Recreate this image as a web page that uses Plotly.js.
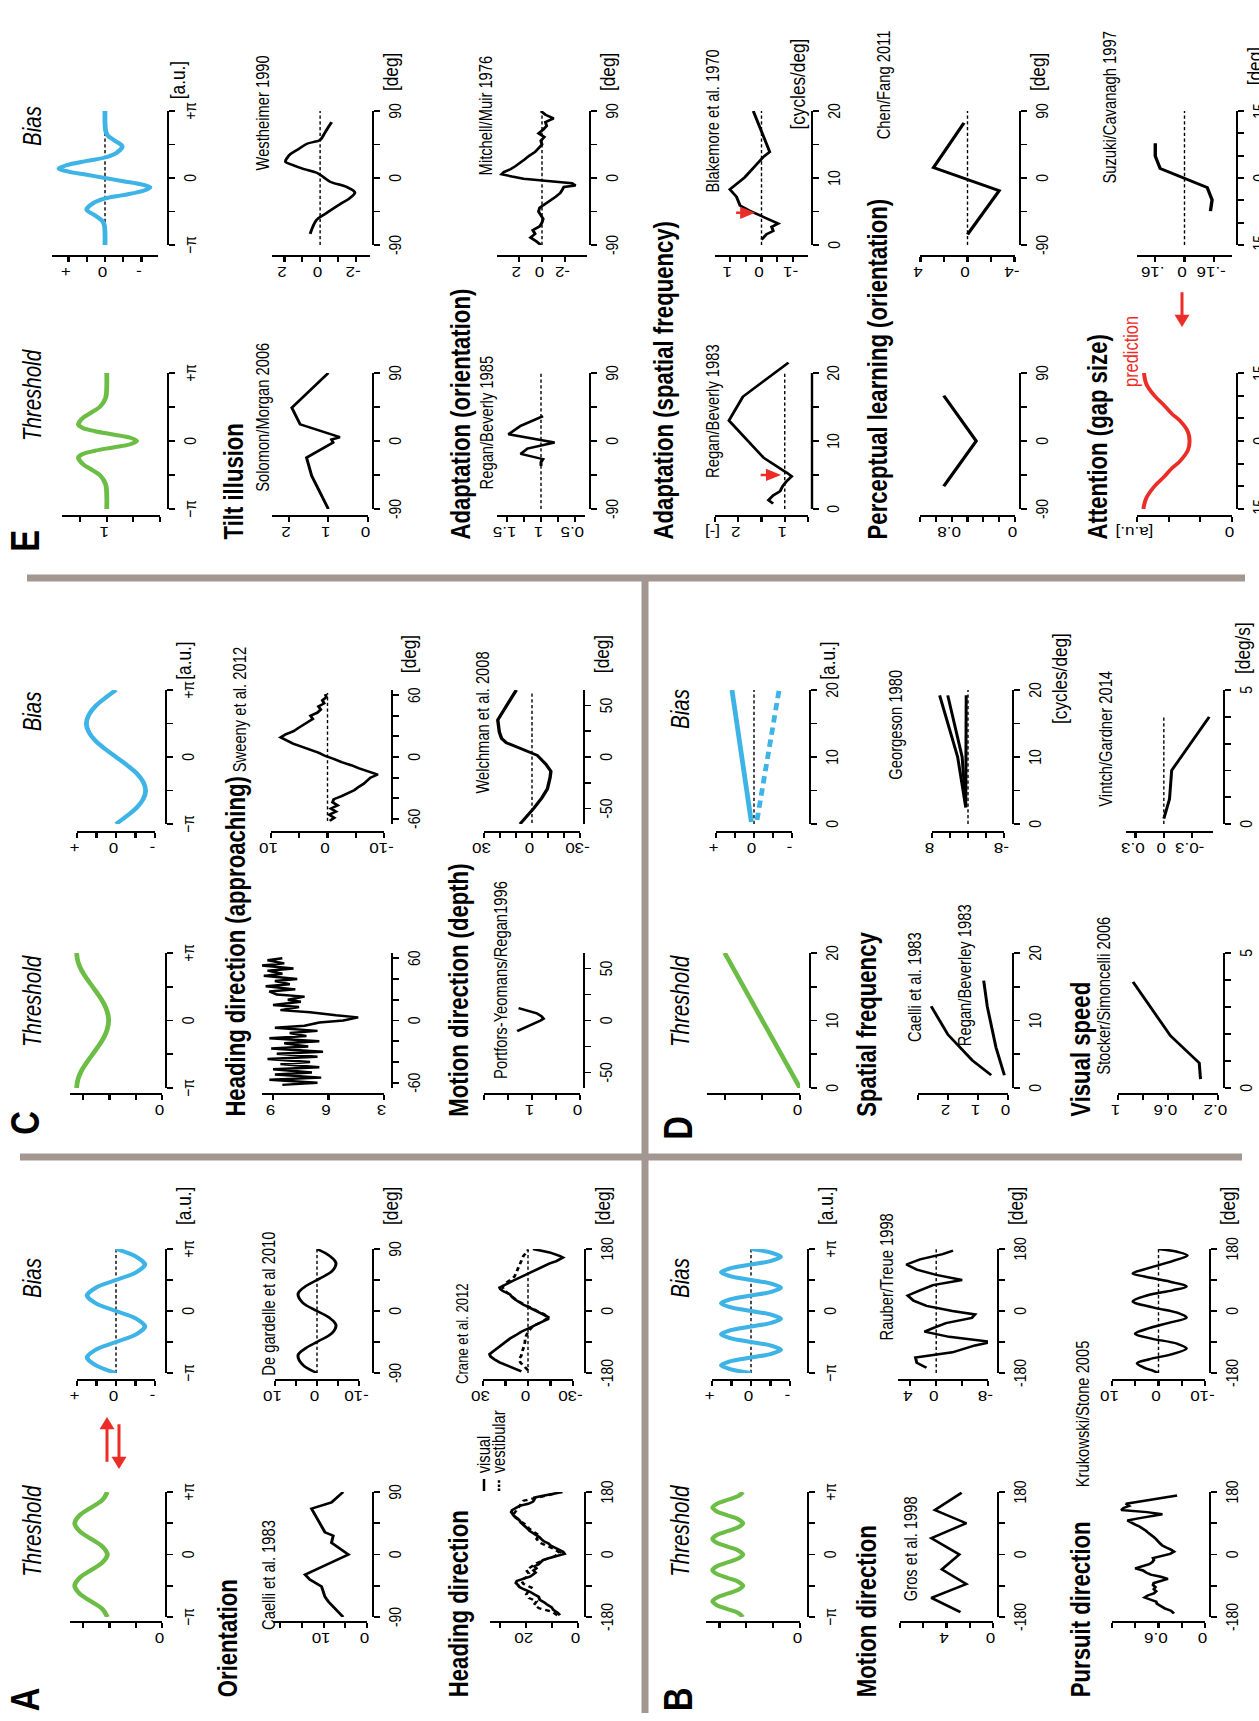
<!DOCTYPE html>
<html><head><meta charset="utf-8">
<script src="https://cdn.plot.ly/plotly-3.0.1.min.js"></script>
<style>
html,body{margin:0;padding:0;background:#fff;overflow:hidden;width:1259px;height:1721px;}
#wrap{position:absolute;left:0;top:0;transform-origin:0 0;}
</style></head>
<body><div id="wrap"><div id="chart"></div></div>
<script>
// ================= DATA =================
const xPi8 = [-3.1416,-2.7489,-2.3562,-1.9635,-1.5708,-1.1781,-0.7854,-0.3927,0,0.3927,0.7854,1.1781,1.5708,1.9635,2.3562,2.7489,3.1416];
const xPi16 = [-3.1416,-2.9452,-2.7489,-2.5525,-2.3562,-2.1598,-1.9635,-1.7671,-1.5708,-1.3744,-1.1781,-0.9817,-0.7854,-0.5890,-0.3927,-0.1963,0,0.1963,0.3927,0.5890,0.7854,0.9817,1.1781,1.3744,1.5708,1.7671,1.9635,2.1598,2.3562,2.5525,2.7489,2.9452,3.1416];
const aThreshold = [2.08,2.26,2.70,3.14,3.32,3.14,2.70,2.26,2.08,2.26,2.70,3.14,3.32,3.14,2.70,2.26,2.08];
const aBias = [0,0.52,0.74,0.52,0,-0.52,-0.74,-0.52,0,0.52,0.74,0.52,0,-0.52,-0.74,-0.52,0];
const bThreshold = [2.13,2.29,2.69,3.09,3.25,3.09,2.69,2.29,2.13,2.29,2.69,3.09,3.25,3.09,2.69,2.29,2.13,2.29,2.69,3.09,3.25,3.09,2.69,2.29,2.13,2.29,2.69,3.09,3.25,3.09,2.69,2.29,2.13];
const bBias = [0,0.54,0.76,0.54,0,-0.54,-0.76,-0.54,0,0.54,0.76,0.54,0,-0.54,-0.76,-0.54,0,0.54,0.76,0.54,0,-0.54,-0.76,-0.54,0,0.54,0.76,0.54,0,-0.54,-0.76,-0.54,0];
const cThreshold = [3.25,3.20,3.07,2.87,2.64,2.41,2.21,2.08,2.03,2.08,2.21,2.41,2.64,2.87,3.07,3.20,3.25];
const cBias = [0,-0.29,-0.54,-0.70,-0.76,-0.70,-0.54,-0.29,0,0.29,0.54,0.70,0.76,0.70,0.54,0.29,0];
const dThrX = [0,20], dThrY = [0,2];
const dBiasX1 = [0.3,20], dBiasY1 = [0.07,0.58];
const dBiasX2 = [0.6,20], dBiasY2 = [-0.08,-0.66];
const eThrX = [-3.14,-2.5,-2.0,-1.6,-1.3,-1.1,-0.9,-0.75,-0.6,-0.45,-0.3,-0.15,0,0.15,0.3,0.45,0.6,0.75,0.9,1.1,1.3,1.6,2.0,2.5,3.14];
const eThrY = [1.0,1.0,1.02,1.12,1.3,1.43,1.51,1.53,1.45,1.22,0.88,0.56,0.44,0.56,0.88,1.22,1.45,1.53,1.51,1.43,1.3,1.12,1.02,1.0,1.0];
const eBiasX = [-3.14,-2.6,-2.2,-2.0,-1.75,-1.48,-1.2,-0.96,-0.8,-0.6,-0.44,-0.3,-0.15,0,0.15,0.3,0.44,0.6,0.8,0.96,1.2,1.48,1.75,2.0,2.2,2.6,3.14];
const eBiasY = [0,0,0.02,0.08,0.28,0.5,0.34,0,-0.5,-1.05,-1.23,-1.0,-0.5,0,0.5,1.0,1.26,1.05,0.5,0,-0.33,-0.47,-0.27,-0.07,-0.02,0,0];
const predX = [-15,-12.5,-10,-8,-6,-4.5,-2,0,2,4.5,6,8,10,12.5,15];
const predY = [2.8,2.7,2.45,2.16,1.9,1.65,1.39,1.34,1.39,1.65,1.9,2.16,2.45,2.7,2.78];

const caelliOriX = [-90,-68,-61,-46,-36,-29,0,17,27,32,66,75,90];
const caelliOriY = [5.5,8.9,9.7,10.5,13.2,14.3,4.3,8.2,7.8,9.7,12.8,8.2,5.5];
const degardX = [-90,-78,-64,-54,-44,-32,-20,-10,0,12,25,36,47,58,70,80,90];
const degardY = [0,3.4,4.5,2.7,-0.3,-3.6,-4.5,-3.0,0,3.4,4.5,2.7,-0.6,-3.6,-4.5,-3.0,0];
const craneThrX = [-175,-168,-160,-152,-145,-138,-130,-122,-115,-108,-100,-94,-88,-82,-76,-70,-64,-58,-52,-46,-40,-34,-28,-22,-16,-10,-4,2,8,14,20,26,32,38,44,50,56,62,68,74,80,86,92,98,104,110,116,122,128,134,140,146,152,158,164,170,176,180];
const craneThrVis = [7,7.8,9.5,10.2,11.8,13,14.8,15.2,16.8,18.4,21,22.6,23.2,24,23.6,21.3,18.6,17.4,16.4,17.2,16.1,16.8,15.2,14.4,13.5,11,8.4,5.2,5.8,7.4,9,10.6,11.4,13.2,14.1,14.9,16.2,17.4,18.7,19.4,20.3,21.2,22.1,22.6,23.4,24.6,25.2,25.8,25.4,24.1,22.6,19.2,17.4,16.9,16.8,13,8,6];
const craneThrVesX = [-175,-165,-155,-145,-135,-125,-115,-105,-95,-85,-75,-65,-55,-45,-35,-25,-15,-5,5,15,25,35,45,55,65,75,85,95,105,115,125,135,145,155,165,175];
const craneThrVes = [8,10,15,17,16,19,20,19,18,21,22,20,19,20,18,16,13,9,7,9,12,15,16,15,17,19,20,22,24,25,24,23,22,21,15,9];
const craneBiasX = [-175,-165,-155,-149,-140,-132,-125,-118,-110,-100,-90,-80,-70,-60,-50,-42,-34,-28,-24,-18,-12,-6,0,5,12,19,26,33,40,49,58,64,68,74,80,88,97,105,112,120,126,132,138,145,150,155,160,165,170,175,180];
const craneBiasVis = [4.4,10,16,19,22.5,25,25.6,23.5,21,18,15.5,12,8,4.5,-0.5,-4,-8,-11,-13.3,-13.5,-11,-8,-5,-3.3,0,3.3,6,8.5,10.5,12.2,16.7,18.5,18.9,16.5,13.5,10,5.6,2,-1.5,-5,-7.8,-11,-14.5,-18.9,-21.5,-23.3,-21,-17.5,-14.4,-9,-3.3];
const craneBiasVesX = [-172,-160,-150,-140,-130,-120,-110,-100,-90,-80,-70,-60,-50,-40,-30,-20,-10,0,10,20,30,40,50,60,70,80,90,100,110,120,130,140,150,160,170,178];
const craneBiasVes = [0,3,5,6,4.5,4,3,2.5,2,2,1,0,-2,-5,-10,-13,-11,-6,-2,3,7,10,13,16,17,15,12,9,8,7,6,5,4,3,1,0];
const grosX = [-166,-125,-85,-43,0,47,90,128,178];
const grosY = [2.8,5.3,2.3,4.4,2.9,5.3,2.3,5.0,2.7];
const rauberX = [-165,-150,-135,-120,-100,-90,-75,-60,-50,-35,-20,-10,0,15,30,45,60,75,90,105,120,135,150,165,175];
const rauberY = [1.5,3.0,3.2,-2.5,-6,-8.5,-2,1.8,0.5,-1.5,-5.5,-6,-2.5,1.5,3.5,4.4,2.5,0.5,-4,0,3,4.6,2.5,-1,-2.6];
const krukThrX = [-170,-162,-155,-148,-142,-136,-130,-124,-118,-112,-106,-100,-94,-88,-82,-76,-70,-64,-58,-52,-46,-40,-34,-28,-22,-16,-10,-4,2,8,14,20,26,32,38,44,50,56,62,68,74,80,86,92,98,104,110,116,122,128,134,140,146,152,158,164,170];
const krukThrY = [0.40,0.44,0.52,0.58,0.62,0.63,0.70,0.78,0.74,0.66,0.63,0.66,0.64,0.67,0.66,0.56,0.48,0.57,0.70,0.76,0.80,0.90,0.82,0.72,0.68,0.66,0.67,0.55,0.45,0.40,0.44,0.50,0.55,0.58,0.60,0.63,0.66,0.70,0.73,0.76,0.80,0.84,0.90,0.95,1.00,0.86,0.68,0.55,0.75,1.08,1.05,0.98,1.02,0.85,0.70,0.50,0.36];
const krukBiasX = [-180,-172,-165,-152,-140,-125,-109,-95,-80,-66,-50,-35,-19,-5,10,28,45,60,71,85,100,109,125,145,161,172,180];
const krukBiasY = [0,1.5,3,4.6,2,-3,-6,-4,1.5,5,2,-2,-6,-4,1,5.5,2.5,-3,-6,-2.5,3,5.5,2,-3,-6.2,-4,0];
const sweenyThrX = [-62,-60,-57,-55,-52,-50,-47,-45,-42,-40,-37,-35,-32,-30,-27,-25,-22,-20,-17,-15,-12,-10,-7,-5,-2,0,3,5,8,10,13,15,18,20,23,25,28,30,33,35,38,40,43,45,48,50,53,55,58,60];
const sweenyThrY = [8.5,6.6,9.2,6.4,8.9,6.9,9.0,6.5,8.6,7.0,9.3,6.6,8.8,6.3,9.1,7.1,8.4,6.5,9.2,7.2,8.1,6.6,8.9,7.3,6.5,5.2,4.4,5.6,7.0,8.6,7.6,9.0,7.5,8.2,7.3,8.8,9.2,7.8,9.4,8.1,8.9,7.7,9.5,8.5,9.3,7.9,9.6,8.4,9.3,8.5];
const sweenyBiasX = [-62,-59,-56,-53,-50,-47,-44,-41,-38,-35,-32,-29,-26,-23,-20,-17,-14,-11,-8,-5,-2,1,4,7,10,13,16,19,22,25,28,31,34,37,40,43,46,49,52,55,58,61];
const sweenyBiasY = [-0.4,-1.2,-0.3,-1.5,-0.6,-1.8,-0.9,-1.1,-2.5,-3.6,-4.8,-5.5,-6.4,-7.0,-7.6,-8.9,-7.2,-5.6,-4.2,-2.5,-1.2,0.4,1.5,3.2,4.6,6.1,7.2,8.3,7.4,6.0,5.2,4.3,3.6,2.6,3.0,1.8,1.2,1.6,0.6,0.9,0.2,0.4];
const portforsX = [-10.3,-5,0,1.7,4,7,9,12];
const portforsY = [1.31,1.05,0.82,0.76,0.8,0.9,1.05,1.28];
const welchmanX = [-65,-50,-40,-31,-20,-13.8,-6.9,1.7,8.6,13.8,18,24,36,65];
const welchmanY = [7.5,-1,-6,-9.6,-11.3,-11.8,-8.6,-3.2,7.5,16,19,20.4,21.4,9.8];
const caelliSfX = [1.9,4.1,7.9,12.1], caelliSfY = [0.56,1.19,2.0,2.56];
const reganSfX = [1.9,6,12.05,15.9], reganSfY = [0.12,0.4,0.69,0.81];
const georgesonX = [2.5,10,19.2];
const georgesonY1 = [0.5,2.3,6.3], georgesonY2 = [0.5,1.3,4.5], georgesonY3 = [0.5,0.5,0.4];
const stockerX = [0.33,0.93,1.93,3.93], stockerY = [0.34,0.35,0.58,0.88];
const vintchX = [0.2,0.93,2.0,4.0], vintchY = [0,-0.06,-0.083,-0.48];
const solomonX = [-90,-46,-22,-2,2,5,22,44,90], solomonY = [1.0,1.42,1.55,0.88,0.92,0.71,1.71,1.92,1.0];
const westX = [-75,-65,-56,-48,-41,-34,-27,-19.5,-12,-5,1,7,12,17,22,27,32,39,46,51,58,66,75];
const westY = [0.56,0.4,0.19,-0.3,-0.74,-1.2,-1.67,-1.95,-1.49,-0.56,-0.2,0.19,0.9,1.49,1.95,1.85,1.67,1.2,0.74,0,-0.2,-0.4,-0.65];
const regan85X = [-33,-28,-24,-17,-10,-2,9,20,33], regan85Y = [1.0,1.0,0.97,1.3,1.2,0.8,1.48,1.3,0.97];
const mitchX = [-90,-85,-80,-75,-70,-65,-60,-55,-50,-45,-40,-35,-30,-25,-20,-15,-12,-10,-7,-4,-1,2,5,8,12,16,20,25,30,35,40,45,50,55,60,65,70,75,80,85,90];
const mitchY = [0.1,0.5,1.0,0.6,0.8,0.2,0,-0.1,0.1,0.3,0.2,-0.3,-0.8,-1.2,-1.6,-1.8,-1.9,-2.9,-2.6,-0.5,1.6,2.6,3.5,3.3,2.7,2.3,1.9,1.5,1.1,0.6,0.3,0,0.1,-0.2,0.3,-0.1,-0.4,-0.3,-1.0,-0.3,0.1];
const regan83X = [0.8,1.3,2.0,2.6,3.3,4.0,4.8,5.3,7.5,10,13,16.5,21.5];
const regan83Y = [1.25,1.35,1.25,1.1,1.05,0.97,0.85,0.95,1.45,1.8,2.2,1.9,0.92];
const blakeX = [0.8,1.6,2.1,2.7,3.2,4.0,5.1,5.9,7.2,8.3,10.1,11.5,13.1,13.9,20];
const blakeY = [0,-0.16,-0.37,-0.32,-0.53,-0.16,0.37,0.68,0.79,1.0,0.53,0.26,-0.05,-0.26,0.26];
const chenThrX = [-60,0,60], chenThrY = [0.9,0.49,0.9];
const chenBiasX = [-76,-17,14,74], chenBiasY = [0,-2.7,2.9,0.3];
const suzukiX = [-7.4,-4.9,-2.1,2.1,4.9,7.8], suzukiY = [-0.142,-0.151,-0.124,0.133,0.16,0.16];

const piT = [-3.1416,-1.5708,0,1.5708,3.1416], piL = ['\u2212\u03c0','','0','','+\u03c0'];
const pmT = [-1,-0.5,0,0.5,1], pmL = ['-','','0','','+'];
const d90T = [-90,-45,0,45,90], d90L = ['-90','','0','','90'];
const d180T = [-180,-90,0,90,180], d180L = ['-180','','0','','180'];
const sf20T = [0,5,10,15,20], sf20L = ['0','','10','','20'];
const d15T = [-15,-10,-5,0,5,10,15], d15L = ['-15','','','0','','','15'];
const d60T = [-60,-40,-20,0,20,40,60], d60L = ['-60','','','0','','','60'];
const d50T = [-50,-25,0,25,50], d50L = ['-50','','0','','50'];

// ================= LAYOUT HELPERS =================
const W = 1721, H = 1259, S = 0.82;
const PW = Math.round(W / S);
const FONT = "'Liberation Sans', Arial, Helvetica, sans-serif";
const green = '#6cbd45', blue = '#3db3e6', red = '#ec2d27', grey = '#a29891';
const TICK = 17, BIG = 40, SEC = 27, ITA = 25, CIT = 18, UNIT = 21;
const X = lx => lx / W, Y = ly => 1 - ly / H;
const data = [];
const layout = {width: PW, height: H, margin:{l:0,r:0,t:0,b:0}, showlegend:false,
  paper_bgcolor:'#fff', plot_bgcolor:'rgba(0,0,0,0)', font:{family:FONT, color:'#000', size:15},
  annotations:[], shapes:[]};
let n = 0;
function sub(g) {
  n++; const k = n === 1 ? '' : String(n);
  const c = {showline:true, linecolor:'#000', linewidth:2.4, ticks:'outside', ticklen:6, tickwidth:2.2,
    tickcolor:'#000', showgrid:false, zeroline:false, fixedrange:true, tickmode:'array',
    tickfont:{size:TICK, family:FONT, color:'#000'}, automargin:false};
  layout['xaxis'+k] = Object.assign({}, c, {domain:[X(g.xd[0]), X(g.xd[1])], anchor:'free',
    position:Y(g.xa), range:g.xr, tickvals:g.xt, ticktext:g.xtt, showline:g.xline !== false});
  layout['yaxis'+k] = Object.assign({}, c, {domain:[Y(g.yd[1]), Y(g.yd[0])], anchor:'free',
    position:X(g.ya), range:g.yr, tickvals:g.yt, ticktext:g.ytt, tickangle:-90});
  return {x:'x'+k, y:'y'+k, xa:g.xa};
}
function line(sp, xs, ys, o) {
  o = o || {};
  data.push({type:'scatter', mode:'lines', x:xs, y:ys, xaxis:sp.x, yaxis:sp.y, hoverinfo:'skip',
    line:{color:o.color || '#000', width:o.width || 3, shape:o.shape || 'linear', dash:o.dash || 'solid'}});
}
function zero(sp, a, b, v) { line(sp, [a, b], [v || 0, v || 0], {width:1.4, dash:'4px,3px'}); }
function txt(t, lx, ly, o) {
  o = o || {};
  layout.annotations.push({text:t, x:X(lx), y:Y(ly), xref:'paper', yref:'paper', showarrow:false,
    xanchor:o.xa || 'center', yanchor:'middle', font:{size:o.size || 15, family:FONT, color:o.color || '#000'}});
}
function arrowP(x0, y0, x1, y1) {
  layout.annotations.push({text:'', x:X(x1), y:Y(y1), ax:X(x0), ay:Y(y0), xref:'paper', yref:'paper',
    axref:'paper', ayref:'paper', showarrow:true, arrowhead:2, arrowsize:1, arrowwidth:3, arrowcolor:red});
}
function arrowD(sp, x0, y0, x1, y1) {
  layout.annotations.push({text:'', x:x1, y:y1, ax:x0, ay:y0, xref:sp.x, yref:sp.y,
    axref:sp.x, ayref:sp.y, showarrow:true, arrowhead:2, arrowsize:1, arrowwidth:3, arrowcolor:red});
}
function bar(x0, y0, x1, y1, w) {
  layout.shapes.push({type:'line', xref:'paper', yref:'paper', x0:X(x0), y0:Y(y0), x1:X(x1), y1:Y(y1),
    line:{color:grey, width:w}});
}
function seg(x0, y0, x1, y1, dash) {
  layout.shapes.push({type:'line', xref:'paper', yref:'paper', x0:X(x0), y0:Y(y0), x1:X(x1), y1:Y(y1),
    line:{color:'#000', width:2.5, dash:dash || 'solid'}});
}
// x-axis line drawn only between two data values (axis extends beyond the ticks)
function axisLine(sp, a, b) {
  layout.shapes.push({type:'line', xref:sp.x, yref:'paper', x0:a, x1:b, y0:Y(sp.xa), y1:Y(sp.xa),
    line:{color:'#000', width:2.4}});
}

const C1A = [104,229], C2A = [348,472], YA1 = 99, YA2 = 341;
const C1C = [633,768], C2C = [897,1031], YC1 = 627, YC2 = 889;
const C1E = [1212,1348], C2E = [1476,1610], YE1 = 1205, YE2 = 1465;
const PI = 3.1416;
const TW = 4.8;

// ---------- Panel A ----------
let sp;
sp = sub({xd:C1A, yd:[70,162], xa:166, ya:YA1, xr:[-PI,PI], xt:piT, xtt:piL, yr:[0,3.5], yt:[0,1,2,3], ytt:['0','','','']});
line(sp, xPi8, aThreshold, {color:green, width:TW, shape:'spline'});
sp = sub({xd:C2A, yd:[77,155], xa:166, ya:YA2, xr:[-PI,PI], xt:piT, xtt:piL, yr:[-1,1], yt:pmT, ytt:pmL});
zero(sp, -PI, PI); line(sp, xPi8, aBias, {color:blue, width:TW, shape:'spline'});
sp = sub({xd:C1A, yd:[273,367], xa:373, ya:YA1, xr:[-90,90], xt:d90T, xtt:d90L, yr:[0,21.7], yt:[0,5,10,15,20], ytt:['0','','10','','']});
line(sp, caelliOriX, caelliOriY);
sp = sub({xd:C2A, yd:[275,359], xa:373, ya:YA2, xr:[-90,90], xt:d90T, xtt:d90L, yr:[-10,10], yt:[-10,-5,0,5,10], ytt:['-10','','0','','10']});
zero(sp, -90, 90); line(sp, degardX, degardY, {shape:'spline'});
sp = sub({xd:C1A, yd:[490,578], xa:585, ya:YA1, xr:[-180,180], xt:d180T, xtt:d180L, yr:[0,34], yt:[0,10,20,30], ytt:['0','','20','']});
line(sp, craneThrVesX, craneThrVes, {dash:'5px,4px', width:2.8}); line(sp, craneThrX, craneThrVis);
sp = sub({xd:C2A, yd:[483,573], xa:585, ya:YA2, xr:[-180,180], xt:d180T, xtt:d180L, yr:[-30,30], yt:[-30,-15,0,15,30], ytt:['-30','','0','','30']});
zero(sp, -180, 180); line(sp, craneBiasVesX, craneBiasVes, {dash:'5px,4px', width:2.8}); line(sp, craneBiasX, craneBiasVis);

// ---------- Panel B ----------
sp = sub({xd:C1A, yd:[706,800], xa:808, ya:YA1, xr:[-PI,PI], xt:piT, xtt:piL, yr:[0,3.5], yt:[0,1,2,3], ytt:['0','','','']});
line(sp, xPi16, bThreshold, {color:green, width:TW, shape:'spline'});
sp = sub({xd:C2A, yd:[712,790], xa:808, ya:YA2, xr:[-PI,PI], xt:piT, xtt:piL, yr:[-1,1], yt:pmT, ytt:pmL});
zero(sp, -PI, PI); line(sp, xPi16, bBias, {color:blue, width:TW, shape:'spline'});
sp = sub({xd:C1A, yd:[900,993], xa:998, ya:YA1, xr:[-180,180], xt:d180T, xtt:d180L, yr:[0,8], yt:[0,2,4,6,8], ytt:['0','','4','','']});
line(sp, grosX, grosY);
sp = sub({xd:C2A, yd:[898,988], xa:998, ya:YA2, xr:[-180,180], xt:d180T, xtt:d180L, yr:[-8,5.9], yt:[-8,-4,0,4], ytt:['-8','','0','4']});
zero(sp, -180, 180); line(sp, rauberX, rauberY);
sp = sub({xd:C1A, yd:[1112,1205], xa:1210, ya:YA1, xr:[-180,180], xt:d180T, xtt:d180L, yr:[0,1.2], yt:[0,0.3,0.6,0.9,1.2], ytt:['0','','0.6','','']});
line(sp, krukThrX, krukThrY);
sp = sub({xd:C2A, yd:[1112,1205], xa:1210, ya:YA2, xr:[-180,180], xt:d180T, xtt:d180L, yr:[-10,10], yt:[-10,-5,0,5,10], ytt:['-10','','0','','10']});
zero(sp, -180, 180); line(sp, krukBiasX, krukBiasY, {shape:'spline'});

// ---------- Panel C ----------
sp = sub({xd:C1C, yd:[70,162], xa:166, ya:YC1, xr:[-PI,PI], xt:piT, xtt:piL, yr:[0,3.5], yt:[0,1,2,3], ytt:['0','','','']});
line(sp, xPi8, cThreshold, {color:green, width:TW, shape:'spline'});
sp = sub({xd:C2C, yd:[77,155], xa:166, ya:YC2, xr:[-PI,PI], xt:piT, xtt:piL, yr:[-1,1], yt:pmT, ytt:pmL});
line(sp, xPi8, cBias, {color:blue, width:TW, shape:'spline'});
sp = sub({xd:C1C, yd:[262,384], xa:392, ya:YC1, xr:[-65,65], xt:d60T, xtt:d60L, yr:[3,9.6], yt:[3,6,9], ytt:['3','6','9']});
line(sp, sweenyThrX, sweenyThrY);
sp = sub({xd:C2C, yd:[271,384], xa:392, ya:YC2, xr:[-65,65], xt:d60T, xtt:d60L, yr:[-10,10], yt:[-10,-5,0,5,10], ytt:['-10','','0','','10']});
zero(sp, -62, 62); line(sp, sweenyBiasX, sweenyBiasY);
sp = sub({xd:C1C, yd:[484,580], xa:584, ya:YC1, xr:[-65,65], xt:d50T, xtt:d50L, yr:[0,2], yt:[0,0.5,1,1.5,2], ytt:['0','','1','','']});
line(sp, portforsX, portforsY);
sp = sub({xd:C2C, yd:[484,580], xa:584, ya:YC2, xr:[-65,65], xt:d50T, xtt:d50L, yr:[-30,30], yt:[-30,-20,-10,0,10,20,30], ytt:['-30','','','0','','','30']});
zero(sp, -64, 64); line(sp, welchmanX, welchmanY, {width:3.4});

// ---------- Panel D ----------
sp = sub({xd:C1C, yd:[707,800], xa:810, ya:YC1, xr:[0,20], xt:sf20T, xtt:sf20L, yr:[0,2.47], yt:[0,1,2], ytt:['0','','']});
line(sp, dThrX, dThrY, {color:green, width:TW});
sp = sub({xd:C2C, yd:[716,792], xa:810, ya:YC2, xr:[0,20], xt:sf20T, xtt:sf20L, yr:[-1,1], yt:pmT, ytt:pmL});
zero(sp, 0, 20); line(sp, dBiasX1, dBiasY1, {color:blue, width:TW}); line(sp, dBiasX2, dBiasY2, {color:blue, width:TW, dash:'9px,6px'});
sp = sub({xd:C1C, yd:[918,1008], xa:1013, ya:YC1, xr:[0,20], xt:sf20T, xtt:sf20L, yr:[0,3], yt:[0,1,2,3], ytt:['0','1','2','']});
line(sp, caelliSfX, caelliSfY); line(sp, reganSfX, reganSfY);
sp = sub({xd:C2C, yd:[932,1004], xa:1013, ya:YC2, xr:[0,20], xt:sf20T, xtt:sf20L, yr:[-8,8], yt:[-8,-4,0,4,8], ytt:['-8','','','','8']});
zero(sp, 0, 20); line(sp, georgesonX, georgesonY1); line(sp, georgesonX, georgesonY2); line(sp, georgesonX, georgesonY3);
sp = sub({xd:C1C, yd:[1118,1218], xa:1224, ya:YC1, xr:[0,5], xt:[0,1,2,3,4,5], xtt:['0','','','','','5'], yr:[0.2,1], yt:[0.2,0.4,0.6,0.8,1], ytt:['0.2','','0.6','','1']});
line(sp, stockerX, stockerY);
sp = sub({xd:C2C, yd:[1126,1213], xa:1224, ya:YC2, xr:[0,5], xt:[0,1,2,3,4,5], xtt:['0','','','','','5'], yr:[-0.52,0.4], yt:[-0.3,0,0.3], ytt:['-0.3','0','0.3']});
zero(sp, 0, 4); line(sp, vintchX, vintchY);

// ---------- Panel E ----------
sp = sub({xd:C1E, yd:[62,160], xa:168, ya:YE1, xr:[-PI,PI], xt:piT, xtt:piL, yr:[0,1.84], yt:[0,0.5,1,1.5], ytt:['','','1','']});
line(sp, eThrX, eThrY, {color:green, width:TW, shape:'spline'});
sp = sub({xd:C2E, yd:[52,158], xa:168, ya:YE2, xr:[-PI,PI], xt:piT, xtt:piL, yr:[-1.45,1.45], yt:pmT, ytt:pmL});
zero(sp, -PI, PI); line(sp, eBiasX, eBiasY, {color:blue, width:TW, shape:'spline'});
sp = sub({xd:C1E, yd:[272,368], xa:373, ya:YE1, xr:[-90,90], xt:d90T, xtt:d90L, yr:[0,2.42], yt:[0,1,2], ytt:['0','1','2']});
line(sp, solomonX, solomonY);
sp = sub({xd:C2E, yd:[272,370], xa:373, ya:YE2, xr:[-90,90], xt:d90T, xtt:d90L, yr:[-2.8,2.7], yt:[-2,-1,0,1,2], ytt:['-2','','0','','2']});
zero(sp, -90, 90); line(sp, westX, westY, {shape:'spline'});
sp = sub({xd:C1E, yd:[497,585], xa:590, ya:YE1, xr:[-90,90], xt:d90T, xtt:d90L, yr:[0.35,1.65], yt:[0.5,0.75,1,1.25,1.5], ytt:['0.5','','1','','1.5']});
zero(sp, -90, 90, 1); line(sp, regan85X, regan85Y);
sp = sub({xd:C2E, yd:[497,587], xa:590, ya:YE2, xr:[-90,90], xt:d90T, xtt:d90L, yr:[-3.9,3.9], yt:[-2,0,2], ytt:['-2','0','2']});
zero(sp, -90, 90); line(sp, mitchX, mitchY);
const spRegan83 = sub({xd:[1212,1359], yd:[715,808], xa:812, ya:YE1, xr:[0,21.6], xt:sf20T, xtt:sf20L, yr:[0.5,2.5], yt:[0.5,1,1.5,2,2.5], ytt:['','1','','2','[-]'], xline:false});
axisLine(spRegan83, 0, 20);
zero(spRegan83, 0, 20, 1); line(spRegan83, regan83X, regan83Y);
const spBlake = sub({xd:C2E, yd:[715,808], xa:812, ya:YE2, xr:[0,20], xt:sf20T, xtt:sf20L, yr:[-1.47,1.47], yt:[-1,-0.5,0,0.5,1], ytt:['-1','','0','','1']});
zero(spBlake, 0, 20); line(spBlake, blakeX, blakeY);
sp = sub({xd:C1E, yd:[920,1015], xa:1020, ya:YE1, xr:[-90,90], xt:d90T, xtt:d90L, yr:[0,1.2], yt:[0,0.2,0.4,0.6,0.8,1,1.2], ytt:['0','','','','0.8','','']});
line(sp, chenThrX, chenThrY, {width:3.4});
sp = sub({xd:C2E, yd:[920,1015], xa:1020, ya:YE2, xr:[-90,90], xt:d90T, xtt:d90L, yr:[-4.05,4.05], yt:[-4,-2,0,2,4], ytt:['-4','','0','','4']});
zero(sp, -90, 90); line(sp, chenBiasX, chenBiasY, {width:3.4});
sp = sub({xd:C1E, yd:[1137,1232], xa:1237, ya:YE1, xr:[-15,15], xt:d15T, xtt:d15L, yr:[0,3], yt:[0,1,2,3], ytt:['0','','','[a.u.]']});
line(sp, predX, predY, {color:red, width:4, shape:'spline'});
sp = sub({xd:C2E, yd:[1137,1232], xa:1237, ya:YE2, xr:[-15,15], xt:d15T, xtt:d15L, yr:[-0.26,0.26], yt:[-0.16,0,0.16], ytt:['-.16','0','.16']});
zero(sp, -15, 15); line(sp, suzukiX, suzukiY, {width:3.4});

// ---------- separators ----------
bar(564, 20, 564, 1242, 8.5);
bar(1143, 27, 1143, 1245, 8.5);
bar(8, 645, 1143, 645, 7);

// ---------- texts ----------
txt('<b>A</b>', 22, 25, {size:BIG}); txt('<b>B</b>', 22, 678, {size:BIG});
txt('<b>C</b>', 598, 25, {size:BIG}); txt('<b>D</b>', 593, 678, {size:BIG});
txt('<b>E</b>', 1180, 25, {size:BIG});
[[190,32],[443,32],[720,32],[1010,32],[1326,32],[1595,32],[190,680],[443,680],[720,680],[1012,680]].forEach((p,i)=>{
  txt('<i>' + (i % 2 === 0 ? 'Threshold' : 'Bias') + '</i>', p[0], p[1], {size:ITA});
});
[['Orientation',22,228],['Heading direction',22,459],['Motion direction',22,867],['Pursuit direction',22,1081],
 ['Heading direction (approaching)',603,236],['Motion direction (depth)',603,459],['Spatial frequency',603,867],['Visual speed',603,1081],
 ['Tilt illusion',1180,234],['Adaptation (orientation)',1180,461],['Adaptation (spatial frequency)',1180,664],
 ['Perceptual learning (orientation)',1180,878],['Attention (gap size)',1180,1098]].forEach(t=>{
  txt('<b>' + t[0] + '</b>', t[1], t[2], {size:SEC, xa:'left'});
});
[['Caelli et al. 1983',146,269,'center'],['De gardelle et al 2010',417,269,'center'],
 ['Gros et al. 1998',172,911,'center'],['Rauber/Treue 1998',444,887,'center'],
 ['Krukowski/Stone 2005',232,1083,'left'],['Sweeny et al. 2012',947,240,'left'],
 ['Portfors-Yeomans/Regan1996',640,501,'left'],['Welchman et al. 2008',999,483,'center'],
 ['Caelli et al. 1983',734,915,'center'],['Regan/Beverley 1983',746,965,'center'],['Georgeson 1980',996,896,'center'],
 ['Stocker/Simoncelli 2006',725,1104,'center'],['Vintch/Gardner 2014',982,1106,'center'],
 ['Solomon/Morgan 2006',1304,263,'center'],['Westheimer 1990',1608,263,'center'],
 ['Regan/Beverly 1985',1298,487,'center'],['Mitchell/Muir 1976',1605,486,'center'],
 ['Regan/Beverly 1983',1310,713,'center'],['Blakemore et al. 1970',1600,713,'center'],
 ['Chen/Fang 2011',1580,884,'left'],['Suzuki/Cavanagh 1997',1614,1110,'center']].forEach(t=>{
  txt(t[0], t[1], t[2], {size:CIT, xa:t[3]});
});
txt('Crane et al. 2012', 335, 462, {size:16, xa:'left'});
txt('prediction', 1370, 1131, {size:20, color:red});
[['[a.u.]',494,183],['[deg]',494,390],['[deg]',494,602],['[a.u.]',494,825],['[deg]',494,1015],['[deg]',494,1227],
 ['[a.u.]',1040,183],['[deg]',1046,409],['[deg]',1046,601],['[a.u.]',1040,827],['[cycles/deg]',995,1059],['[deg/s]',1045,1242],
 ['[a.u.]',1620,178],['[deg]',1628,390],['[deg]',1628,607],['[cycles/deg]',1590,797],['[deg]',1628,1037],['[deg]',1634,1254]].forEach(t=>{
  txt(t[0], t[1], t[2], {size:UNIT, xa:'left'});
});
// legend (Crane)
seg(230, 484, 242, 484); seg(230, 499, 242, 499, '3px,2px');
txt('visual', 246, 484, {size:CIT, xa:'left'}); txt('vestibular', 246, 499, {size:CIT, xa:'left'});
// red arrows
arrowP(258, 107, 304, 107); arrowP(298, 119, 252, 119);
arrowP(1430, 1182, 1394, 1182);
arrowD(spRegan83, 5, 1.55, 5, 1.08);
arrowD(spBlake, 4.8, 0.85, 4.8, 0.2);

// ---------- render ----------
const wrap = document.getElementById('wrap');
wrap.style.width = PW + 'px'; wrap.style.height = H + 'px';
wrap.style.transform = 'translateY(1721px) rotate(-90deg) scaleX(' + (W / PW) + ')';
Plotly.newPlot('chart', data, layout, {staticPlot:true, displayModeBar:false});
</script>
</body></html>
